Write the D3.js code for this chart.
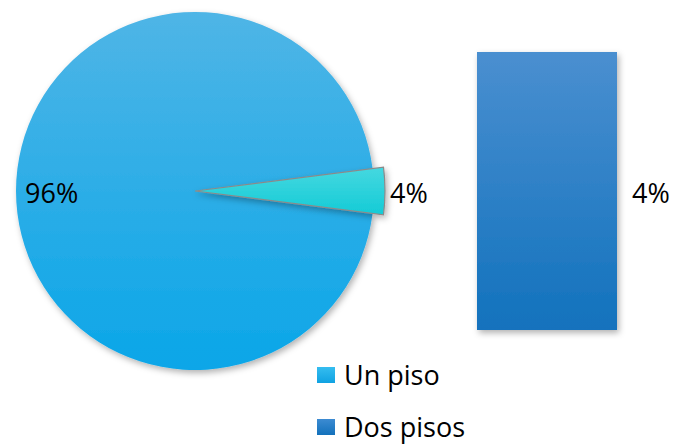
<!DOCTYPE html>
<html><head><meta charset="utf-8">
<script src="https://cdn.jsdelivr.net/npm/d3@7"></script>
<style>body{margin:0;background:#fff}svg{display:block}text{font-family:"Open Sans",sans-serif}</style>
</head><body>
<svg id="c" width="678" height="444"></svg>
<script>
const categories = ["Un piso", "Dos pisos"];
const pieValues = [4, 96];          // "other" group, Un piso
const pieLabels = ["4%", "96%"];
const barCategories = ["Dos pisos"];
const barValues = [4];
const barLabels = ["4%"];

const svg = d3.select("#c");
const defs = svg.append("defs");
function grad(id, c1, c2){
  const g = defs.append("linearGradient").attr("id", id).attr("x1",0).attr("y1",0).attr("x2",0).attr("y2",1);
  g.append("stop").attr("offset","0%").attr("stop-color",c1);
  g.append("stop").attr("offset","100%").attr("stop-color",c2);
}
grad("gPie","#4fb5e6","#0aa6e8");
grad("gSlice","#45d8e0","#14cbd6");
grad("gBar","#4a8fd0","#1272bd");
grad("gL1","#35bdf0","#10a2e2");
grad("gL2","#3c8bd2","#1371bb");
const f = defs.append("filter").attr("id","sh").attr("x","-10%").attr("y","-10%").attr("width","130%").attr("height","130%");
f.append("feDropShadow").attr("dx",2).attr("dy",3).attr("stdDeviation",3).attr("flood-color","#000").attr("flood-opacity",0.3);

const cx = 195, cy = 191;
const half = pieValues[0] / d3.sum(pieValues) * Math.PI;
const pie = d3.pie().sort(null).startAngle(Math.PI/2 - half).endAngle(Math.PI/2 - half + 2*Math.PI);
const arcs = pie(pieValues);
const g = svg.append("g").attr("transform", `translate(${cx},${cy})`);
g.append("path").attr("d", d3.arc().innerRadius(0).outerRadius(179)(arcs[1]))
  .attr("fill","url(#gPie)").attr("filter","url(#sh)");
g.append("path").attr("d", d3.arc().innerRadius(0).outerRadius(190)(arcs[0]))
  .attr("fill","url(#gSlice)").attr("stroke","#8a8a8a").attr("stroke-width",1.2).attr("filter","url(#sh)");

svg.append("text").attr("x",25).attr("y",203).attr("font-size",27).attr("fill","#000").text(pieLabels[1]);
svg.append("text").attr("x",390).attr("y",203).attr("font-size",27).attr("fill","#000").text(pieLabels[0]);

// bar
const x = d3.scaleBand().domain(barCategories).range([477,617]).padding(0);
const y = d3.scaleLinear().domain([0, d3.max(barValues)]).range([330,52]);
svg.selectAll(".bar").data(barValues).enter().append("rect")
  .attr("x",(d,i)=>x(barCategories[i])).attr("width",x.bandwidth())
  .attr("y",d=>y(d)).attr("height",d=>y(0)-y(d))
  .attr("fill","url(#gBar)").attr("filter","url(#sh)");
svg.selectAll(".bl").data(barValues).enter().append("text")
  .attr("x",632).attr("y",(d)=>(y(d)+y(0))/2+12).attr("font-size",27).text((d,i)=>barLabels[i]);

// legend
const leg = svg.selectAll(".lg").data(categories).enter().append("g")
  .attr("transform",(d,i)=>`translate(317,${367+i*52})`);
leg.append("rect").attr("width",18).attr("height",16).attr("fill",(d,i)=>i?"url(#gL2)":"url(#gL1)");
leg.append("text").attr("x",27).attr("y",18).attr("font-size",27).text(d=>d);
</script>
</body></html>
